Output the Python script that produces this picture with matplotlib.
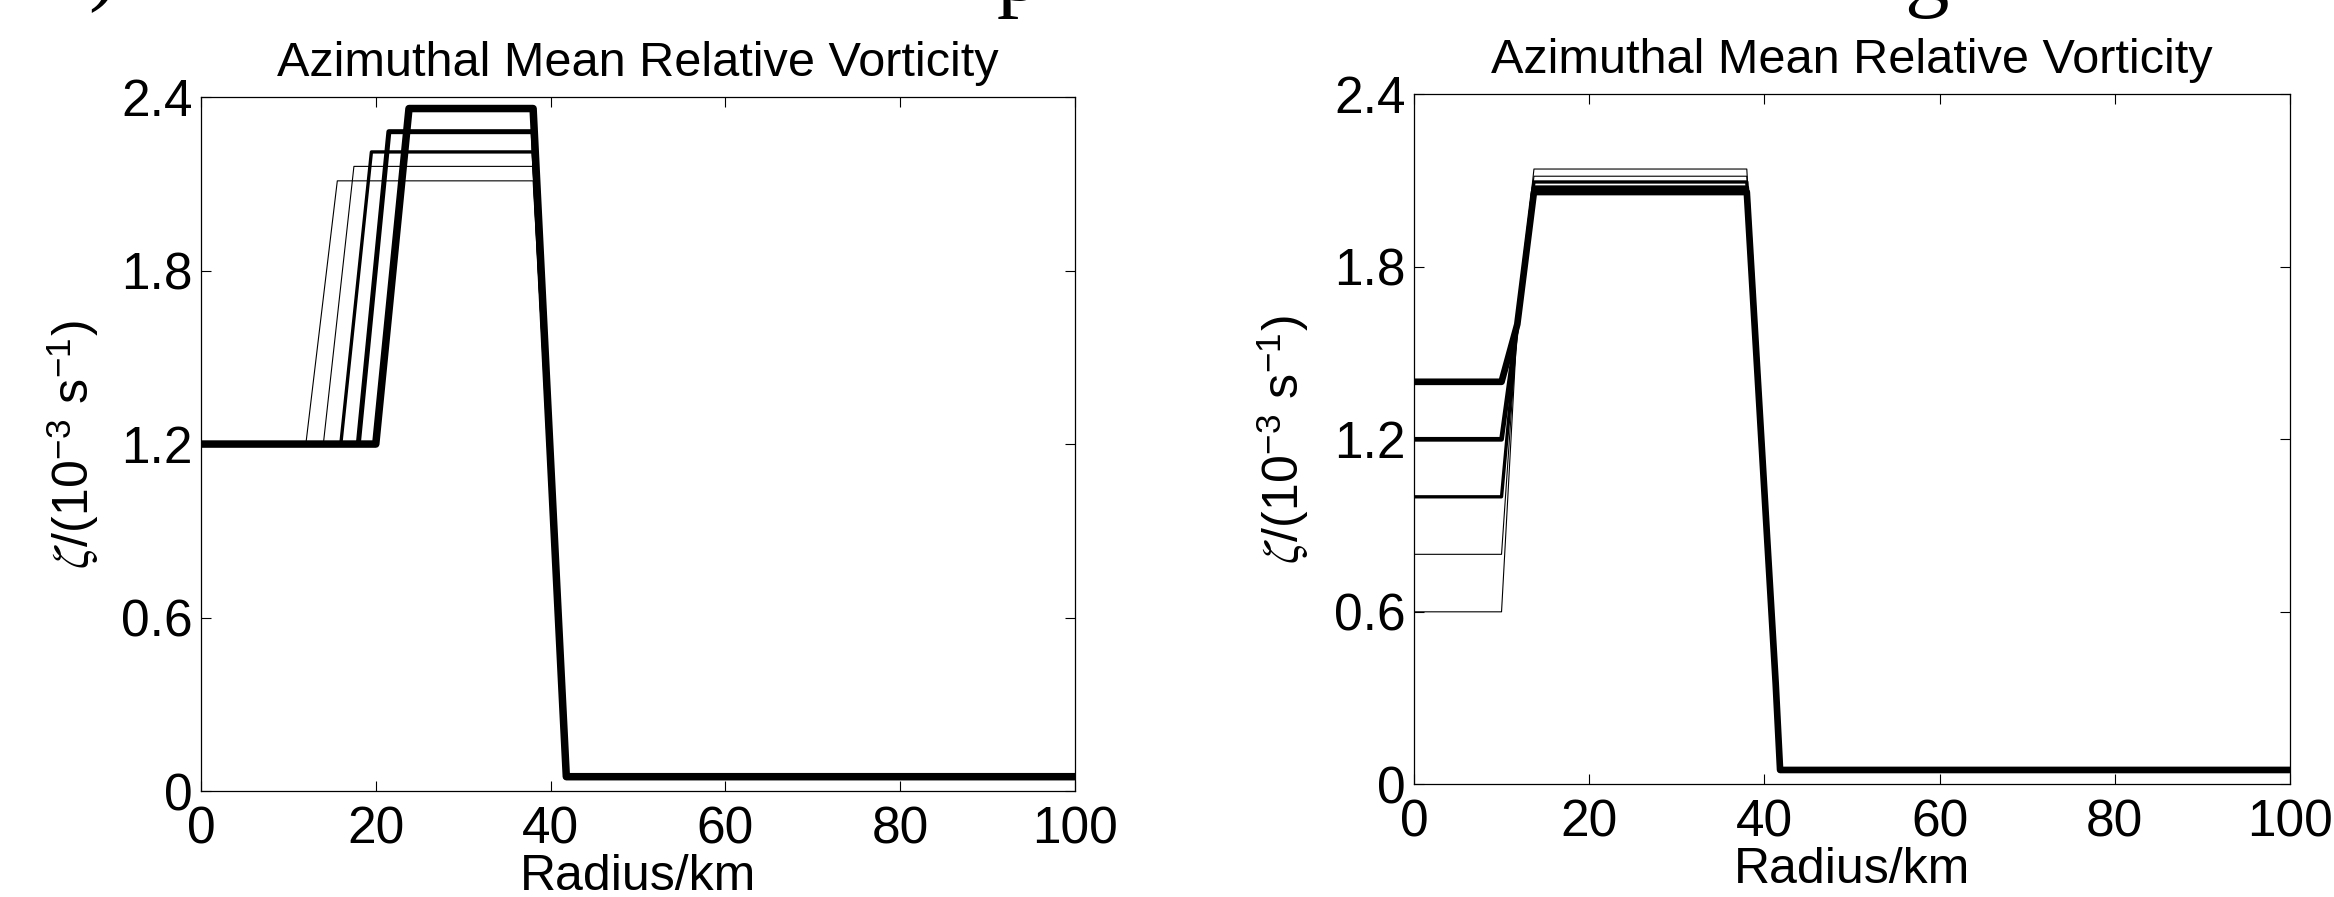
import numpy as np
import matplotlib
matplotlib.use('Agg')
from matplotlib import pyplot as plt

plt.rcParams['font.family'] = ['Liberation Sans', 'DejaVu Sans']
plt.rcParams['mathtext.fontset'] = 'stix'

# left panel: same core value, ring moves outward
left_core = 1.2
left_ramp_start = [12.0, 14.0, 16.0, 18.0, 20.0]
left_ramp_end = [15.6, 17.5, 19.5, 21.5, 23.8]
left_plateau = [2.11, 2.16, 2.21, 2.28, 2.36]
left_widths = [0.8, 0.8, 2.4, 3.6, 5.4]

# right panel: same ring, core value changes
right_core = [0.6, 0.8, 1.0, 1.2, 1.4]
right_plateau = [2.14, 2.115, 2.095, 2.075, 2.06]
right_widths = [0.8, 0.8, 2.4, 3.4, 4.8]
right_ramp_r = [10.0, 11.8, 13.7]
right_ramp_mid = 1.6

# outer edge (shared by all curves)
edge_r = [38.0, 41.3, 41.8, 100.0]
edge_v = [0.35, 0.05, 0.05]

xticks = [0, 20, 40, 60, 80, 100]
yticks = [0, 0.6, 1.2, 1.8, 2.4]
ytick_labels = ['0', '0.6', '1.2', '1.8', '2.4']
title = 'Azimuthal Mean Relative Vorticity'
ylab = r'$\zeta$/(10$^{\mathregular{-3}}$ s$^{\mathregular{-1}}$)'

fig = plt.figure(figsize=(23.34, 8.97), dpi=100)
ax1 = fig.add_axes([0.0861, 0.1180, 0.3745, 0.7739])
ax2 = fig.add_axes([0.6058, 0.1256, 0.3753, 0.7693])

for i in range(len(left_plateau)):
    r = [0, left_ramp_start[i], left_ramp_end[i]] + edge_r
    v = [left_core, left_core, left_plateau[i], left_plateau[i]] + edge_v
    ax1.plot(r, v, color='k', lw=left_widths[i])

for i in range(len(right_core)):
    r = [0] + right_ramp_r + edge_r
    v = [right_core[i], right_core[i], right_ramp_mid, right_plateau[i],
         right_plateau[i]] + edge_v
    ax2.plot(r, v, color='k', lw=right_widths[i])

for ax in (ax1, ax2):
    ax.set_xlim(0, 100)
    ax.set_ylim(0, 2.4)
    ax.set_xticks(xticks)
    ax.set_yticks(yticks)
    ax.set_yticklabels(ytick_labels)
    ax.tick_params(direction='in', top=True, right=True, length=7, width=0.8,
                   labelsize=37)
    ax.tick_params(axis='x', pad=10)
    ax.tick_params(axis='y', pad=6)
    for s in ax.spines.values():
        s.set_linewidth(0.9)
    ax.set_title(title, fontsize=35, pad=15)
    ax.set_xlabel('Radius/km', fontsize=36, labelpad=0)
    ax.set_ylabel(ylab, fontsize=36)

ax1.yaxis.set_label_coords(-0.114, 0.5)
ax2.yaxis.set_label_coords(-0.118, 0.5)

# bits of the cut-off caption above the panels
fig.text(88 / 2334, 1.007, ')', fontsize=64, family='Liberation Serif', va='baseline')
fig.text(997 / 2334, 1.0, 'p', fontsize=64, family='Liberation Serif', va='baseline')
fig.text(1904 / 2334, 1.0, 'g', fontsize=64, family='Liberation Serif', va='baseline')

plt.savefig('out.png', dpi=100)
